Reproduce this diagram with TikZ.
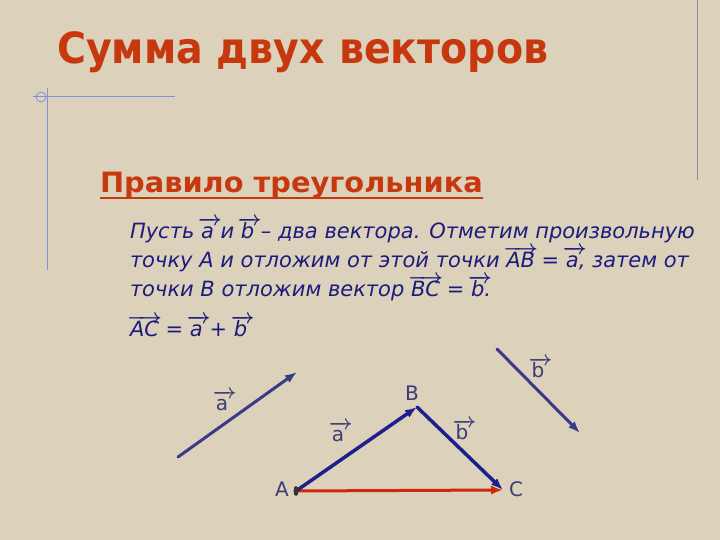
\documentclass[tikz,border=0pt]{standalone}
\usepackage{fontspec}
\setmainfont{DejaVu Sans}
\usetikzlibrary{arrows.meta}
\newsavebox{\vecbox}
\newcommand{\vecto}[1]{\sbox{\vecbox}{#1}\rlap{\raisebox{0.62em}{\makebox[\wd\vecbox][c]{\hbox to \dimexpr\wd\vecbox+6pt\relax{\boldmath\rightarrowfill}}}}\usebox{\vecbox}}
\begin{document}
\begin{tikzpicture}[x=1pt,y=1pt,
  vec/.style={line width=3pt,line cap=round,-{Latex[length=12pt,width=9pt]}},
  txt/.style={text=textColor,anchor=base west,inner sep=0pt,outer sep=0pt,font=\fontsize{21}{25}\selectfont\itshape},
  lbl/.style={text=labelColor,anchor=base,inner sep=0pt,outer sep=0pt,font=\fontsize{20}{24}\selectfont}]
\definecolor{fillColor}{RGB}{220,209,187}
\definecolor{titleColor}{RGB}{200,56,14}
\definecolor{textColor}{RGB}{28,28,125}
\definecolor{labelColor}{RGB}{60,60,120}
\definecolor{freeColor}{RGB}{58,58,135}
\definecolor{sideColor}{RGB}{30,30,140}
\definecolor{sumColor}{RGB}{205,40,10}
\definecolor{lineColor}{RGB}{130,145,215}
\path[use as bounding box,fill=fillColor] (0,0) rectangle (720,540);

% slide decoration
\path[draw=lineColor,line width= 1pt] ( 33,443) -- (175,443);
\path[draw=lineColor,line width= 1pt] ( 47,452) -- ( 47,270);
\path[draw=lineColor,line width= 0.8pt] ( 41,443) circle (5);
\path[draw=lineColor!70!gray,line width= 1pt] (697,540) -- (697,360);

% headings
\node[text=titleColor,anchor=base west,inner sep=0pt,outer sep=0pt,xscale=0.92,font=\fontsize{43}{50}\selectfont\bfseries] (title) at ( 57,476) {Сумма двух векторов};
\node[text=titleColor,anchor=base west,inner sep=0pt,outer sep=0pt,xscale=1.03,font=\fontsize{28}{34}\selectfont\bfseries] (rule) at (100,347) {Правило треугольника};
\path[draw=titleColor,line width= 2pt] ([yshift=-5pt]rule.base west) -- ([yshift=-5pt]rule.base east);

% text
\node[txt] (line1) at (130,301) {Пусть \vecto{a} и \vecto{b} – два вектора. Отметим произвольную};
\node[txt] (line2) at (130,272) {точку А и отложим от этой точки \vecto{AB} = \vecto{a}, затем от};
\node[txt] (line3) at (130,243) {точки В отложим вектор \vecto{BC} = \vecto{b}.};
\node[txt] (line4) at (130,203) {\vecto{AC} = \vecto{a} + \vecto{b}};

% free vectors
\coordinate (a1) at (178, 83);
\coordinate (a2) at (297,168);
\coordinate (b1) at (497,191);
\coordinate (b2) at (580,107);
\path[draw=freeColor,vec] (a1) -- (a2);
\path[draw=freeColor,vec] (b1) -- (b2);
\node[lbl] (la) at (222,129) {\vecto{a}};
\node[lbl] (lb) at (538,162) {\vecto{b}};

% triangle
\coordinate (A) at (296, 49);
\coordinate (B) at (417,133);
\coordinate (C) at (503, 50);
\path[draw=sumColor,vec] (A) -- (C);
\path[draw=sideColor,vec,line width= 3.5pt] (A) -- (B);
\path[draw=sideColor,vec,line width= 3.5pt] (B) -- (C);
\path[fill=black!80] (A) ellipse (2.5 and 5);
\node[lbl] (labA) at (282, 43) {A};
\node[lbl] (labB) at (412,139) {B};
\node[lbl] (labC) at (516, 43) {C};
\node[lbl] (lAB) at (338, 98) {\vecto{a}};
\node[lbl] (lBC) at (462,100) {\vecto{b}};
\end{tikzpicture}
\end{document}
